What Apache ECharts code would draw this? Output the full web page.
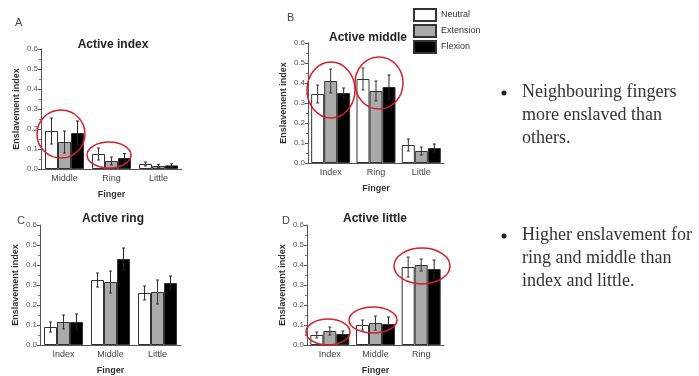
<!DOCTYPE html>
<html><head><meta charset="utf-8">
<script src="https://cdn.jsdelivr.net/npm/echarts@6/dist/echarts.min.js"></script>
<style>html,body{margin:0;padding:0;background:#fff}#c{width:699px;height:376px}</style>
</head><body><div id="c"></div>
<script>
// ---- data ----
const conditions = ['Neutral', 'Extension', 'Flexion'];
const panelTitles = ['Active index', 'Active middle', 'Active ring', 'Active little'];
const panelLetters = ['A', 'B', 'C', 'D'];
const yTicks = ['0.0', '0.1', '0.2', '0.3', '0.4', '0.5', '0.6'];

const catsA = ['Middle', 'Ring', 'Little'];
const neutralA = [0.19, 0.075, 0.025];
const extensionA = [0.135, 0.04, 0.015];
const flexionA = [0.18, 0.055, 0.018];
const errNeutralA = [0.065, 0.03, 0.01];
const errExtensionA = [0.055, 0.02, 0.008];
const errFlexionA = [0.06, 0.022, 0.008];

const catsB = ['Index', 'Ring', 'Little'];
const neutralB = [0.345, 0.42, 0.09];
const extensionB = [0.41, 0.36, 0.06];
const flexionB = [0.35, 0.38, 0.075];
const errNeutralB = [0.045, 0.055, 0.03];
const errExtensionB = [0.06, 0.05, 0.02];
const errFlexionB = [0.025, 0.06, 0.02];

const catsC = ['Index', 'Middle', 'Little'];
const neutralC = [0.09, 0.325, 0.26];
const extensionC = [0.115, 0.315, 0.265];
const flexionC = [0.115, 0.43, 0.31];
const errNeutralC = [0.025, 0.035, 0.035];
const errExtensionC = [0.035, 0.055, 0.06];
const errFlexionC = [0.04, 0.055, 0.035];

const catsD = ['Index', 'Middle', 'Ring'];
const neutralD = [0.05, 0.10, 0.39];
const extensionD = [0.07, 0.11, 0.40];
const flexionD = [0.055, 0.105, 0.38];
const errNeutralD = [0.015, 0.025, 0.05];
const errExtensionD = [0.02, 0.035, 0.03];
const errFlexionD = [0.015, 0.035, 0.045];

const bullet1 = 'Neighbouring fingers\nmore enslaved than\nothers.';
const bullet2 = 'Higher enslavement for\nring and middle than\nindex and little.';

// ---- build ----
const panels = [
  {cats: catsA, vals: [neutralA, extensionA, flexionA], errs: [errNeutralA, errExtensionA, errFlexionA]},
  {cats: catsB, vals: [neutralB, extensionB, flexionB], errs: [errNeutralB, errExtensionB, errFlexionB]},
  {cats: catsC, vals: [neutralC, extensionC, flexionC], errs: [errNeutralC, errExtensionC, errFlexionC]},
  {cats: catsD, vals: [neutralD, extensionD, flexionD], errs: [errNeutralD, errExtensionD, errFlexionD]}
];
const colors = ['#ffffff', '#aaaaaa', '#000000'];
const BW = 13;
const grids = [
  {left: 41, top: 49, width: 141, height: 120},
  {left: 308, top: 43, width: 136, height: 120},
  {left: 40, top: 225, width: 141, height: 120},
  {left: 307, top: 225, width: 137, height: 120}
];
const FONT = 'Liberation Sans, Arial, sans-serif';
const xAxes = [], yAxes = [], series = [], titles = [];
const letterPos = [[15, 17], [287, 12], [17, 215], [282, 215]];
const titlePos = [[113, 39], [368, 32], [113, 213], [375, 213]];
panels.forEach((p, i) => {
  titles.push({text: panelLetters[i], left: letterPos[i][0], top: letterPos[i][1], padding: 0,
    textStyle: {fontSize: 11, fontWeight: 'normal', color: '#444', fontFamily: FONT}});
  titles.push({text: panelTitles[i], left: titlePos[i][0], top: titlePos[i][1], textAlign: 'center', padding: 0,
    textStyle: {fontSize: 12, fontWeight: 'bold', color: '#222', fontFamily: FONT}});
  xAxes.push({type: 'category', gridIndex: i, data: p.cats,
    name: 'Finger', nameLocation: 'middle', nameGap: 21,
    nameTextStyle: {fontSize: 9, fontWeight: 'bold', color: '#333', fontFamily: FONT},
    axisLine: {lineStyle: {color: '#555', width: 1}},
    axisTick: {show: false},
    axisLabel: {fontSize: 9, color: '#444', margin: 5, fontFamily: FONT}});
  yAxes.push({type: 'value', gridIndex: i, min: 0, max: 0.6, interval: 0.1,
    name: 'Enslavement index', nameLocation: 'middle', nameGap: 20,
    nameTextStyle: {fontSize: 9, fontWeight: 'bold', color: '#333', fontFamily: FONT},
    axisLine: {show: true, lineStyle: {color: '#555', width: 1}},
    axisTick: {show: true, length: 3, lineStyle: {color: '#555'}},
    minorTick: {show: true, splitNumber: 2, length: 2, lineStyle: {color: '#777'}},
    splitLine: {show: false},
    axisLabel: {fontSize: 8, color: '#555', margin: 3, fontFamily: FONT,
      formatter: (v) => yTicks[Math.round(v * 10)]}});
  conditions.forEach((c, j) => {
    series.push({type: 'bar', name: c, xAxisIndex: i, yAxisIndex: i, data: p.vals[j],
      barWidth: BW, barGap: '0%',
      itemStyle: {color: colors[j], borderColor: '#333', borderWidth: 1}});
  });
  conditions.forEach((c, j) => {
    const off = (j - 1) * BW;
    series.push({type: 'custom', xAxisIndex: i, yAxisIndex: i, z: 5,
      data: p.vals[j].map((v, k) => [k, v - p.errs[j][k], v + p.errs[j][k]]),
      renderItem: (params, api) => {
        const lo = api.coord([api.value(0), api.value(1)]);
        const hi = api.coord([api.value(0), api.value(2)]);
        const x = lo[0] + off;
        const st = {stroke: j === 2 ? '#222' : '#333', lineWidth: 1};
        return {type: 'group', children: [
          {type: 'line', shape: {x1: x, y1: lo[1], x2: x, y2: hi[1]}, style: st},
          {type: 'line', shape: {x1: x - 1.5, y1: lo[1], x2: x + 1.5, y2: lo[1]}, style: st},
          {type: 'line', shape: {x1: x - 1.5, y1: hi[1], x2: x + 1.5, y2: hi[1]}, style: st}
        ]};
      }});
  });
});

// hand-drawn red annotation rings (decoration)
const rings = [[61, 134, 24, 24], [109, 155, 22, 13], [331, 90, 24, 28], [379, 83, 24, 26],
  [328, 332, 22, 13], [373, 320, 24, 13], [422, 266, 28, 18]];
const graphics = rings.map(r => ({type: 'ellipse', shape: {cx: r[0], cy: r[1], rx: r[2], ry: r[3]},
  style: {fill: 'none', stroke: '#d4202c', lineWidth: 1.5}, z: 100}));
graphics.push({type: 'circle', shape: {cx: 504, cy: 93, r: 2.5}, style: {fill: '#222'}});
graphics.push({type: 'text', left: 522, top: 81, style: {text: bullet1, font: '18px "Liberation Serif"', fill: '#333', lineHeight: 23}});
graphics.push({type: 'circle', shape: {cx: 504, cy: 236, r: 2.5}, style: {fill: '#222'}});
graphics.push({type: 'text', left: 522, top: 224, style: {text: bullet2, font: '18px "Liberation Serif"', fill: '#333', lineHeight: 23}});

const chart = echarts.init(document.getElementById('c'));
chart.setOption({
  animation: false,
  backgroundColor: '#fff',
  title: titles,
  legend: {data: conditions, orient: 'vertical', left: 413, top: 8, padding: 0, itemWidth: 22, itemHeight: 12, itemGap: 2,
    icon: 'rect',
    textStyle: {fontSize: 9, color: '#333', fontFamily: FONT}},
  grid: grids,
  xAxis: xAxes,
  yAxis: yAxes,
  series: series,
  graphic: graphics
});
</script></body></html>
